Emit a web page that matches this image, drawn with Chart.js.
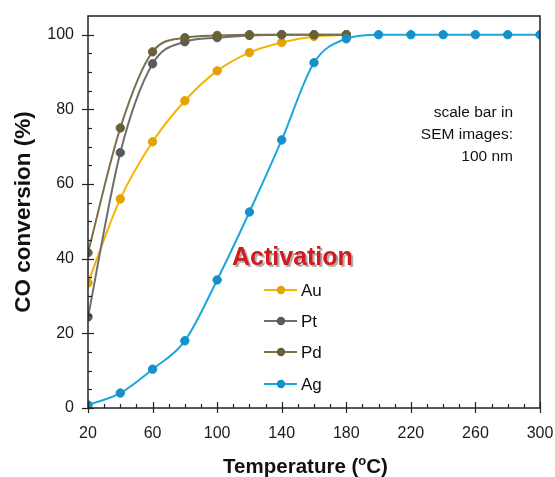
<!DOCTYPE html>
<html>
<head>
<meta charset="utf-8">
<script src="https://cdn.jsdelivr.net/npm/chart.js@4"></script>
<style>
  html, body { margin: 0; padding: 0; background: #fff; }
  #wrap { width: 555px; height: 477px; }
</style>
</head>
<body>
<div id="wrap"><canvas id="myChart"></canvas></div>
<script>
// temperatures (oC)
const temps = [20, 40, 60, 80, 100, 120, 140, 160, 180, 200, 220, 240, 260, 280, 300];
// CO conversion (%)
const au = [33.5, 56, 71.3, 82.3, 90.3, 95.2, 97.9, 99.5, 100];
const pt = [24.4, 68.4, 92.2, 98.1, 99.2, 99.8, 100, 100, 100];
const pd = [41.6, 75, 95.4, 99.2, 99.8, 100, 100, 100, 100];
const ag = [0.8, 4, 10.4, 18, 34.3, 52.5, 71.8, 92.5, 98.9, 100, 100, 100, 100, 100, 100];
const seriesNames = ["Au", "Pt", "Pd", "Ag"];
const xTicks = [20, 60, 100, 140, 180, 220, 260, 300];
const yTicks = [0, 20, 40, 60, 80, 100];

const lineColors = ["#f5b400", "#6e6e6e", "#7b7148", "#1aa7df"];
const dotColors = ["#e2a200", "#5a5a5a", "#6a6038", "#1590c8"];
const FONT = "'Liberation Sans', Arial, sans-serif";

function pts(vals) {
  return vals.map((v, i) => ({ x: temps[i], y: v }));
}

const allSeries = [au, pt, pd, ag];
const drawOrder = [3, 2, 1, 0]; // Ag on top

const datasets = allSeries.map((vals, i) => ({
  label: seriesNames[i],
  data: pts(vals),
  borderColor: lineColors[i],
  backgroundColor: dotColors[i],
  pointBackgroundColor: dotColors[i],
  pointBorderColor: dotColors[i],
  pointBorderWidth: 1,
  pointRadius: 4.2,
  borderWidth: 2,
  cubicInterpolationMode: 'monotone',
  order: drawOrder[i],
}));

// axis box, ticks, legend, notes
const decor = {
  id: 'decor',
  afterDatasetsDraw(chart) {
    const { ctx, chartArea: a, scales: { x, y } } = chart;
    ctx.save();
    ctx.strokeStyle = "#222";
    ctx.lineWidth = 1.5;
    ctx.strokeRect(a.left, a.top, a.right - a.left, a.bottom - a.top);

    // x ticks
    ctx.lineWidth = 1.2;
    for (let t = 20; t <= 300; t += 10) {
      const px = Math.round(x.getPixelForValue(t)) + 0.5;
      const major = xTicks.includes(t);
      ctx.beginPath();
      ctx.moveTo(px, a.bottom + (major ? 5 : 0));
      ctx.lineTo(px, a.bottom - (major ? 6 : 4));
      ctx.stroke();
    }
    // y ticks
    for (let v = 0; v <= 100; v += 5) {
      const py = Math.round(y.getPixelForValue(v)) + 0.5;
      const major = yTicks.includes(v);
      ctx.beginPath();
      ctx.moveTo(a.left - (major ? 6 : 0), py);
      ctx.lineTo(a.left + (major ? 6 : 4), py);
      ctx.stroke();
    }

    // legend
    ctx.font = "bold 25px " + FONT;
    ctx.textBaseline = "middle";
    ctx.textAlign = "left";
    ctx.fillStyle = "rgba(120,120,120,0.6)";
    ctx.fillText("Activation", 234, 260);
    ctx.fillStyle = "#d01a1e";
    ctx.fillText("Activation", 232, 258);

    const rows = [290, 321, 352, 384];
    ctx.font = "17px " + FONT;
    seriesNames.forEach((n, i) => {
      ctx.strokeStyle = lineColors[i];
      ctx.lineWidth = 2;
      ctx.beginPath();
      ctx.moveTo(264, rows[i]);
      ctx.lineTo(297, rows[i]);
      ctx.stroke();
      ctx.fillStyle = dotColors[i];
      ctx.beginPath();
      ctx.arc(281, rows[i], 4.2, 0, Math.PI * 2);
      ctx.fill();
      ctx.fillStyle = "#111";
      ctx.fillText(n, 301, rows[i] + 1);
    });

    // note
    ctx.font = "15.5px " + FONT;
    ctx.textAlign = "right";
    ctx.fillStyle = "#111";
    ["scale bar in", "SEM images:", "100 nm"].forEach((s, i) => {
      ctx.fillText(s, 513, 113 + i * 22);
    });

    // x title with superscript o
    ctx.textAlign = "left";
    ctx.textBaseline = "alphabetic";
    const big = "bold 20.5px " + FONT, small = "bold 13px " + FONT;
    const p1 = "Temperature (", p2 = "o", p3 = "C)";
    ctx.font = big; const w1 = ctx.measureText(p1).width, w3 = ctx.measureText(p3).width;
    ctx.font = small; const w2 = ctx.measureText(p2).width;
    let sx = 305.5 - (w1 + w2 + w3) / 2;
    const by = 473;
    ctx.font = big; ctx.fillText(p1, sx, by); sx += w1;
    ctx.font = small; ctx.fillText(p2, sx, by - 8); sx += w2;
    ctx.font = big; ctx.fillText(p3, sx, by);
    ctx.restore();
  }
};

const config = {
  type: 'line',
  data: { datasets },
  options: {
    responsive: false,
    animation: false,
    layout: { padding: { top: 16, right: 15, left: 0, bottom: 0 } },
    plugins: { legend: { display: false }, tooltip: { enabled: false } },
    scales: {
      x: {
        type: 'linear',
        min: 20, max: 300,
        grid: { display: false, drawTicks: false },
        border: { display: false },
        afterBuildTicks: (s) => { s.ticks = xTicks.map(v => ({ value: v })); },
        afterFit: (s) => { s.height = 69; s.paddingLeft = 0; s.paddingRight = 0; },
        ticks: { padding: 16, color: "#1a1a1a", font: { family: FONT, size: 16 } },
      },
      y: {
        min: 0, max: 105,
        grid: { display: false, drawTicks: false },
        border: { display: false },
        afterBuildTicks: (s) => { s.ticks = yTicks.map(v => ({ value: v })); },
        afterFit: (s) => { s.width = 88; s.paddingTop = 0; s.paddingBottom = 0; },
        title: {
          display: true, text: "CO conversion (%)", color: "#111",
          font: { family: FONT, size: 22.5, weight: 'bold' }, padding: { top: 10, bottom: 0 },
        },
        ticks: { padding: 14, color: "#1a1a1a", font: { family: FONT, size: 16 } },
      },
    },
  },
  plugins: [decor],
};

const canvas = document.getElementById('myChart');
canvas.width = 555; canvas.height = 477;
new Chart(canvas.getContext("2d"), config);
</script>
</body>
</html>
